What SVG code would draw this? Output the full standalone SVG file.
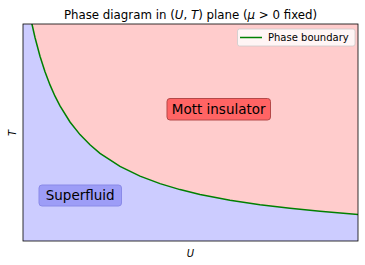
<svg xmlns="http://www.w3.org/2000/svg" width="365" height="265" viewBox="0 0 365 265">
<style>
text{font-family:"DejaVu Sans","Liberation Sans",sans-serif;fill:#000}
.it{font-style:italic}
.lbl{font-size:13.5px;text-anchor:middle}
</style>
<defs>
<clipPath id="ax"><rect x="23" y="24" width="335" height="217"/></clipPath>
</defs>
<rect width="365" height="265" fill="#fff"/>
<g id="regions" clip-path="url(#ax)">
<rect x="23" y="24" width="335" height="217" fill="#ffcccc"/>
<path fill="#ccccff" d="M23,24 L32,24.3 L35,37.5 L40,56.2 L45,71.8 L50,84.9 L55,96.2 L60,105.9 L70,122 L80,134.6 L90,144.8 L100,153.3 L120,166.4 L140,176.1 L160,183.6 L180,189.6 L200,194.4 L230,200.2 L260,204.7 L290,208.3 L320,211.3 L358,214.4 L358,241 L23,241 Z"/>
</g>
<g id="connectors" clip-path="url(#ax)">
<path id="boundary" fill="none" stroke="#008000" stroke-width="1.5" d="M30,17 L32,24.3 L35,37.5 L40,56.2 L45,71.8 L50,84.9 L55,96.2 L60,105.9 L70,122 L80,134.6 L90,144.8 L100,153.3 L120,166.4 L140,176.1 L160,183.6 L180,189.6 L200,194.4 L230,200.2 L260,204.7 L290,208.3 L320,211.3 L358,214.4"/>
</g>
<rect x="23" y="24" width="335" height="217" fill="none" stroke="#000" stroke-width="0.8"/>
<g id="title">
<text x="190.5" y="18.5" font-size="11.8" text-anchor="middle">Phase diagram in (<tspan class="it">U</tspan>, <tspan class="it">T</tspan>) plane (<tspan class="it">μ</tspan> &gt; 0 fixed)</text>
</g>
<g id="legend">
<rect x="237.5" y="29" width="117.5" height="17" rx="2" fill="#fff" fill-opacity="0.8" stroke="#cccccc" stroke-width="0.8"/>
<line x1="240" y1="37.5" x2="262" y2="37.5" stroke="#008000" stroke-width="1.5"/>
<text x="268" y="41.3" font-size="10">Phase boundary</text>
</g>
<g id="mott">
<rect x="167" y="98.5" width="103.5" height="21.5" rx="3" fill="#ff6464" stroke="#b44848" stroke-width="1"/>
<text class="lbl" x="218.7" y="114">Mott insulator</text>
</g>
<g id="superfluid">
<rect x="39" y="185" width="82.5" height="21" rx="3" fill="#9d9df7" stroke="#8a8ae8" stroke-width="1"/>
<text class="lbl" x="80.2" y="200.2">Superfluid</text>
</g>
<g id="axis-labels">
<text class="it" x="190.5" y="256.5" font-size="10" text-anchor="middle">U</text>
<text class="it" transform="translate(16,133) rotate(-90)" font-size="10" text-anchor="middle">T</text>
</g>
</svg>
